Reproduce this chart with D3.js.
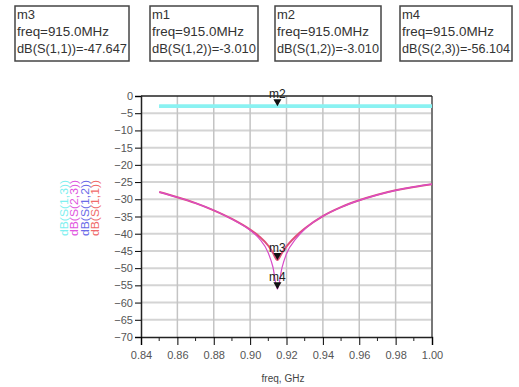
<!DOCTYPE html>
<html>
<head>
<meta charset="utf-8">
<script src="https://cdn.jsdelivr.net/npm/d3@7"></script>
<style>
  html, body { margin: 0; padding: 0; background: #fff; }
  svg { display: block; font-family: "Liberation Sans", Arial, sans-serif; }
</style>
</head>
<body>
<figure id="chart" style="margin:0"></figure>
<script>
// frequency points (GHz)
const freqGHz = [0.85, 0.86, 0.87, 0.88, 0.89, 0.90, 0.905, 0.91, 0.9125, 0.915, 0.9175, 0.92, 0.925, 0.93, 0.94, 0.95, 0.96, 0.97, 0.98, 0.99, 1.00];
// traces in dB
const s11 = [-27.9, -29.4, -31.1, -33.2, -35.7, -38.8, -40.8, -43.5, -45.5, -47.647, -45.6, -43.7, -40.8, -38.5, -34.9, -32.3, -30.3, -28.7, -27.4, -26.4, -25.6];
const s23 = [-27.9, -29.4, -31.1, -33.2, -35.8, -39.0, -41.4, -45.6, -49.6, -56.104, -49.9, -45.8, -41.6, -38.7, -34.9, -32.3, -30.3, -28.7, -27.4, -26.4, -25.6];
const s12 = freqGHz.map(() => -3.010);
const s13 = freqGHz.map(() => -3.010);

const legendLabels = ["dB(S(1,3))", "dB(S(2,3))", "dB(S(1,2))", "dB(S(1,1))"];
const legendColors = ["#7ff0f0", "#e055e0", "#6a6ae8", "#f06a6a"];

const xTicks = [0.84, 0.86, 0.88, 0.90, 0.92, 0.94, 0.96, 0.98, 1.00];
const xMinorTicks = [0.85, 0.87, 0.89, 0.91, 0.93, 0.95, 0.97, 0.99];
const yTicks = [0, -5, -10, -15, -20, -25, -30, -35, -40, -45, -50, -55, -60, -65, -70];

// marker readouts
const markerNames = ["m3", "m1", "m2", "m4"];
const markerTraces = ["dB(S(1,1))", "dB(S(1,2))", "dB(S(1,2))", "dB(S(2,3))"];
const markerValues = [-47.647, -3.010, -3.010, -56.104];
const markerFreqMHz = 915.0;

const width = 519, height = 387;
const plot = { left: 141, right: 432, top: 96, bottom: 337 };

const svg = d3.select("#chart").append("svg")
  .attr("width", width)
  .attr("height", height);

const x = d3.scaleLinear().domain([0.84, 1.00]).range([plot.left, plot.right]);
const y = d3.scaleLinear().domain([0, -70]).range([plot.top, plot.bottom]);

// marker boxes at the top
const boxX = [15, 150, 275, 400];
const boxW = [114, 108, 106, 112];
markerNames.forEach((name, i) => {
  const g = svg.append("g").attr("transform", `translate(${boxX[i]},6)`);
  g.append("rect")
    .attr("width", boxW[i]).attr("height", 55)
    .attr("fill", "#fff").attr("stroke", "#444").attr("stroke-width", 1.5);
  const lines = [name, `freq=${markerFreqMHz.toFixed(1)}MHz`, `${markerTraces[i]}=${markerValues[i].toFixed(3)}`];
  const lens = [null, 92, boxW[i] - 4];
  lines.forEach((t, j) => {
    const txt = g.append("text")
      .attr("x", 2).attr("y", 13 + j * 17)
      .attr("font-size", 13).attr("fill", "#333")
      .text(t);
    if (lens[j]) txt.attr("textLength", lens[j]).attr("lengthAdjust", "spacingAndGlyphs");
  });
});

// grid
svg.append("g").selectAll("line").data(yTicks.slice(1, -1)).join("line")
  .attr("x1", plot.left).attr("x2", plot.right)
  .attr("y1", d => y(d)).attr("y2", d => y(d))
  .attr("stroke", "#d4d4d4").attr("stroke-width", 2);
svg.append("g").selectAll("line").data(xTicks.slice(1, -1)).join("line")
  .attr("x1", d => x(d)).attr("x2", d => x(d))
  .attr("y1", plot.top).attr("y2", plot.bottom)
  .attr("stroke", "#c4c4c4").attr("stroke-width", 1.5);

// frame
svg.append("line").attr("x1", plot.right).attr("x2", plot.right)
  .attr("y1", plot.top).attr("y2", plot.bottom)
  .attr("stroke", "#777").attr("stroke-width", 2);
svg.append("line").attr("x1", plot.left).attr("x2", plot.right)
  .attr("y1", plot.top).attr("y2", plot.top)
  .attr("stroke", "#222").attr("stroke-width", 1.5);

// axes
const yAxis = d3.axisLeft(y).tickValues(yTicks).tickSize(6).tickPadding(2).tickFormat(d3.format("d"));
svg.append("g").attr("transform", `translate(${plot.left},0)`).call(yAxis)
  .call(g => g.select(".domain").attr("stroke", "#222").attr("stroke-width", 1.5))
  .call(g => g.selectAll("text").attr("font-size", 11).attr("fill", "#555"));

const xAxis = d3.axisBottom(x).tickValues(xTicks).tickSize(8).tickPadding(6).tickFormat(d3.format(".2f"));
svg.append("g").attr("transform", `translate(0,${plot.bottom})`).call(xAxis)
  .call(g => g.select(".domain").attr("stroke", "#222").attr("stroke-width", 1.5))
  .call(g => g.selectAll("text").attr("font-size", 11).attr("fill", "#555"));
svg.append("g").selectAll("line").data(xMinorTicks).join("line")
  .attr("x1", d => x(d)).attr("x2", d => x(d))
  .attr("y1", plot.bottom).attr("y2", plot.bottom + 4)
  .attr("stroke", "#222");

svg.append("text")
  .attr("x", 283).attr("y", 382)
  .attr("text-anchor", "middle").attr("font-size", 10).attr("fill", "#444")
  .text("freq, GHz");

// traces
const line = d3.line()
  .x((d, i) => x(freqGHz[i]))
  .y(d => y(d))
  .curve(d3.curveMonotoneX);

const traces = [
  { data: s13, color: "#8af2f2", w: 3.5 },
  { data: s12, color: "#8af2f2", w: 3.5 },
  { data: s11, color: "#e0507a", w: 2 },
  { data: s23, color: "#d84cc8", w: 1.2 }
];
svg.append("g").selectAll("path").data(traces).join("path")
  .attr("d", d => line(d.data))
  .attr("fill", "none")
  .attr("stroke", d => d.color)
  .attr("stroke-width", d => d.w);

// legend (rotated)
const legendX = [68, 78, 89, 99];
legendLabels.forEach((t, i) => {
  svg.append("text")
    .attr("transform", `translate(${legendX[i]},236) rotate(-90)`)
    .attr("font-size", 10)
    .attr("fill", legendColors[i])
    .attr("textLength", 56).attr("lengthAdjust", "spacingAndGlyphs")
    .text(t);
});

// markers on the traces
const markerShown = [0, 2, 3];
markerShown.forEach(i => {
  const px = x(markerFreqMHz / 1000);
  const py = y(markerValues[i]);
  svg.append("path")
    .attr("d", `M${px - 4},${py - 7}L${px + 4},${py - 7}L${px},${py}Z`)
    .attr("fill", "#111");
  svg.append("text")
    .attr("x", px).attr("y", py - 8)
    .attr("text-anchor", "middle").attr("font-size", 12).attr("fill", "#222")
    .text(markerNames[i]);
});
</script>
</body>
</html>
